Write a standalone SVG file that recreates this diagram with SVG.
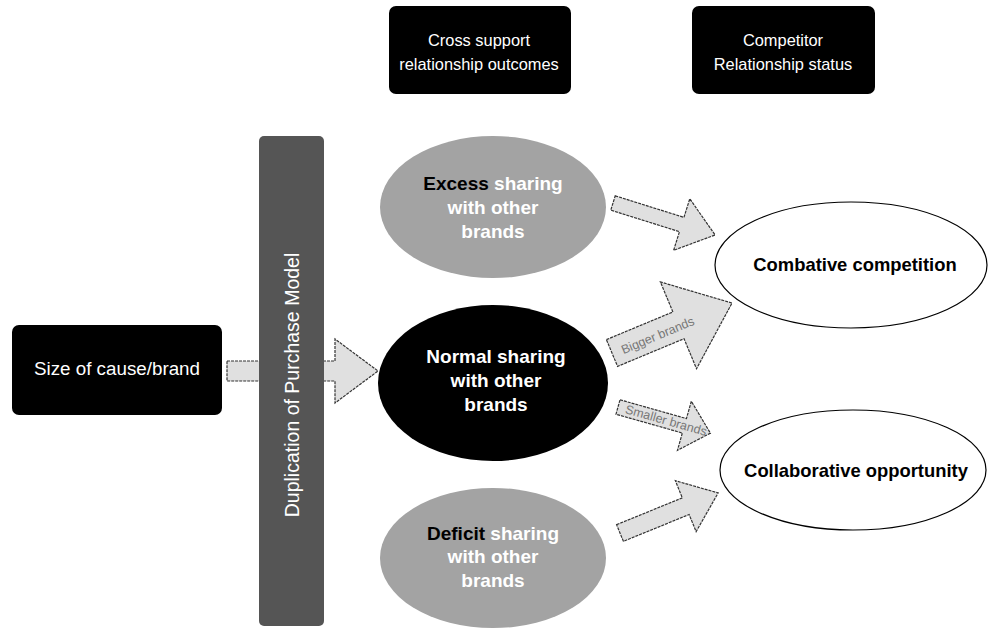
<svg xmlns="http://www.w3.org/2000/svg" width="989" height="628" viewBox="0 0 989 628">
<style>
text{font-family:"Liberation Sans",Arial,sans-serif;}
.box{fill:#000;}
.wt{fill:#fff;font-size:16.4px;text-anchor:middle;}
.bt{fill:#fff;font-size:19px;font-weight:bold;text-anchor:middle;}
.kt{fill:#000;font-size:18.4px;font-weight:bold;text-anchor:middle;}
.arr{fill:#e0e0e0;stroke:#333;stroke-width:1.2;stroke-dasharray:3 1;}
.lbl{fill:#777;font-size:12.5px;text-anchor:middle;}
</style>
<rect width="989" height="628" fill="#fff"/>
<g id="connectors">
  <polygon class="arr" points="227,361 335,361 335,339 378,371 335,403 335,381 227,381"/>
  <g transform="translate(613,203) rotate(17.4)"><polygon class="arr" points="0,-7.5 72,-7.5 72,-27 107,0 72,27 72,7.5 0,7.5"/></g>
  <g transform="translate(612,353) rotate(-22.6)"><polygon class="arr" points="0,-14.5 72,-14.5 72,-47 130,0 72,47 72,14.5 0,14.5"/>
    <text class="lbl" x="49" y="5.5">Bigger brands</text></g>
  <g transform="translate(618,407) rotate(15.8)"><polygon class="arr" points="0,-7.5 69,-7.5 69,-25.5 96,0 69,25.5 69,7.5 0,7.5"/>
    <text class="lbl" x="50" y="4">Smaller brands</text></g>
  <g transform="translate(620,533) rotate(-22.2)"><polygon class="arr" points="0,-9 71,-9 71,-27.5 106,0 71,27.5 71,9 0,9"/></g>
</g>
<g id="hdr1"><rect class="box" x="389" y="6" width="182" height="88" rx="7"/>
  <text class="wt" x="479" y="46">Cross support</text><text class="wt" x="479" y="70">relationship outcomes</text></g>
<g id="hdr2"><rect class="box" x="692" y="6" width="183" height="88" rx="7"/>
  <text class="wt" x="783" y="46">Competitor</text><text class="wt" x="783" y="70">Relationship status</text></g>
<g id="size"><rect class="box" x="12" y="325" width="210" height="90" rx="7"/>
  <text class="wt" style="font-size:18.8px" x="117" y="375">Size of cause/brand</text></g>
<g id="dpm"><rect x="259" y="136" width="65" height="490" rx="5" fill="#555"/>
  <text class="wt" style="font-size:19.5px" transform="translate(299,385) rotate(-90)" x="0" y="0">Duplication of Purchase Model</text></g>
<g id="excess"><ellipse cx="493" cy="207" rx="113" ry="71" fill="#a3a3a3"/>
  <text class="bt" x="493" y="190"><tspan fill="#000">Excess</tspan> sharing</text>
  <text class="bt" x="493" y="214">with other</text><text class="bt" x="493" y="238">brands</text></g>
<g id="normal"><ellipse cx="493" cy="383" rx="115" ry="78" fill="#000"/>
  <text class="bt" x="496" y="363">Normal sharing</text>
  <text class="bt" x="496" y="387">with other</text><text class="bt" x="496" y="411">brands</text></g>
<g id="deficit"><ellipse cx="493" cy="558" rx="113" ry="70" fill="#a3a3a3"/>
  <text class="bt" x="493" y="540"><tspan fill="#000">Deficit</tspan> sharing</text>
  <text class="bt" x="493" y="563">with other</text><text class="bt" x="493" y="587">brands</text></g>
<g id="combative"><ellipse cx="851" cy="265" rx="136" ry="63" fill="#fff" stroke="#000" stroke-width="1.2"/>
  <text class="kt" x="855" y="271">Combative competition</text></g>
<g id="collab"><ellipse cx="853" cy="470" rx="133" ry="60" fill="#fff" stroke="#000" stroke-width="1.2"/>
  <text class="kt" x="856" y="477">Collaborative opportunity</text></g>
</svg>
